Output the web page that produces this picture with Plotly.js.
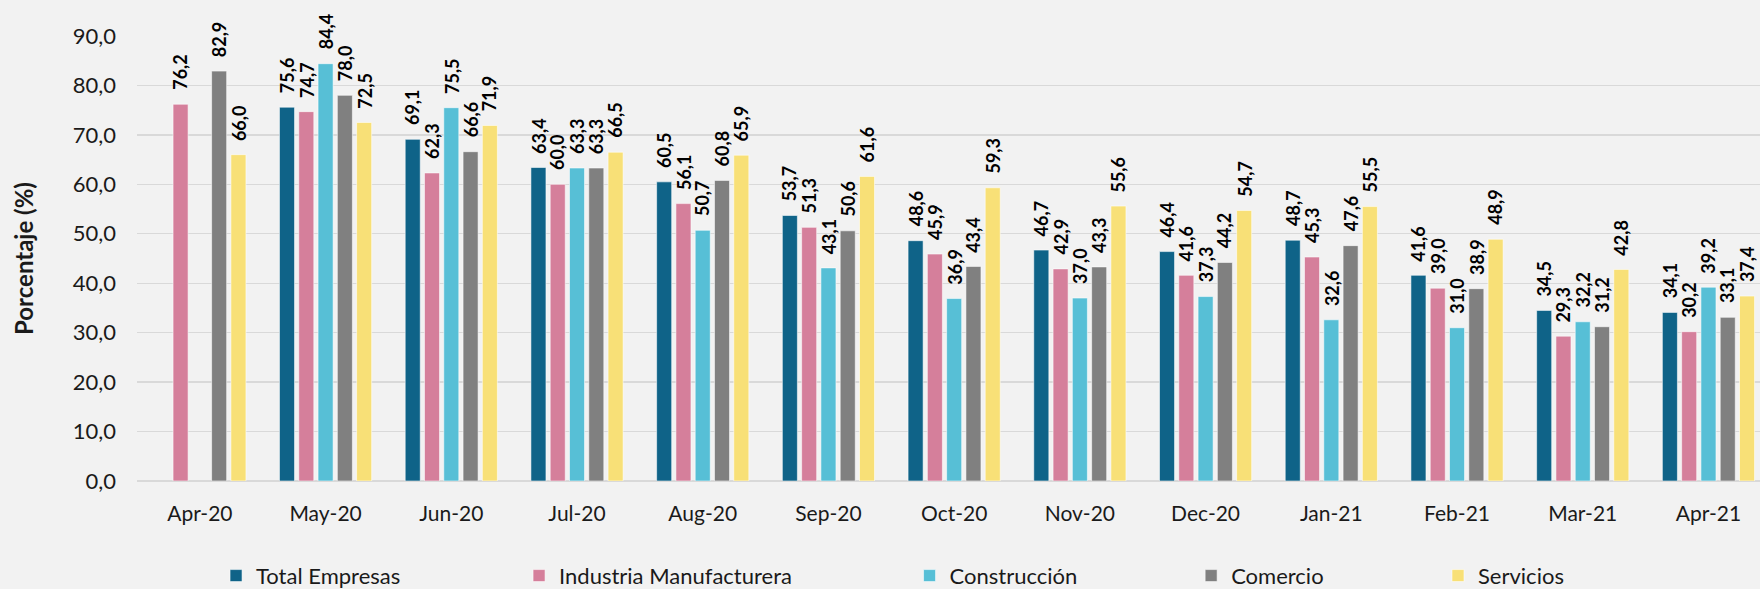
<!DOCTYPE html>
<html>
<head>
<meta charset="utf-8">
<script src="https://cdn.plot.ly/plotly-3.0.1.min.js"></script>
<style>
html,body{margin:0;padding:0;background:#F2F2F2;}
#chart{width:1760px;height:589px;}
</style>
</head>
<body>
<div id="chart"></div>
<script>
const categories = ["Apr-20","May-20","Jun-20","Jul-20","Aug-20","Sep-20","Oct-20","Nov-20","Dec-20","Jan-21","Feb-21","Mar-21","Apr-21"];
const seriesNames = ["Total Empresas","Industria Manufacturera","Construcción","Comercio","Servicios"];
const totalEmpresas = [null,75.6,69.1,63.4,60.5,53.7,48.6,46.7,46.4,48.7,41.6,34.5,34.1];
const industria = [76.2,74.7,62.3,60.0,56.1,51.3,45.9,42.9,41.6,45.3,39.0,29.3,30.2];
const construccion = [null,84.4,75.5,63.3,50.7,43.1,36.9,37.0,37.3,32.6,31.0,32.2,39.2];
const comercio = [82.9,78.0,66.6,63.3,60.8,50.6,43.4,43.3,44.2,47.6,38.9,31.2,33.1];
const servicios = [66.0,72.5,71.9,66.5,65.9,61.6,59.3,55.6,54.7,55.5,48.9,42.8,37.4];
const yTickVals = [0,10,20,30,40,50,60,70,80,90];

const allValues = [totalEmpresas, industria, construccion, comercio, servicios];
const colors = ["#0F6388","#D57F9B","#57BFD6","#808080","#F8E077"];
const legendIds = ["legend","legend2","legend3","legend4","legend5"];
const legendX = [0.0487,0.2354,0.4760,0.6495,0.8016];

const FONT = "Lato, 'Open Sans', sans-serif";

const W = 1760, H = 589;
const margin = {l: 137, r: 0, t: 36, b: 108, autoexpand: false};
const xRange = [-0.5, 12.41];
const bargap = 0.233;

// pixel width of one series slot inside a category group (derived from axis scale)
const catPx = (W - margin.l - margin.r) / (xRange[1] - xRange[0]);
const slotPx = catPx * (1 - bargap) / allValues.length;

const traces = allValues.map((vals, i) => ({
  type: "bar",
  name: seriesNames[i],
  x: categories,
  y: vals,
  marker: {color: colors[i], line: {color: "rgba(255,255,255,0.55)", width: 1}},
  legend: legendIds[i],
  hoverinfo: "x+y+name"
}));

const annotations = [];
allValues.forEach((vals, i) => {
  vals.forEach((v, j) => {
    if (v === null) return;
    annotations.push({
      x: categories[j],
      y: v,
      xref: "x",
      yref: "y",
      text: v.toFixed(1).replace(".", ","),
      showarrow: false,
      textangle: -90,
      xanchor: "center",
      yanchor: "bottom",
      xshift: (i - (allValues.length - 1) / 2) * slotPx,
      yshift: 13,
      borderpad: 0,
      font: {family: FONT, size: 18, color: "#000000", weight: "bold"}
    });
  });
});

const layout = {
  width: W,
  height: H,
  paper_bgcolor: "#F2F2F2",
  plot_bgcolor: "#F2F2F2",
  separators: ",.",
  margin: margin,
  barmode: "group",
  bargap: bargap,
  bargroupgap: 0.22,
  font: {family: FONT, color: "#1a1a1a"},
  xaxis: {
    type: "category",
    range: xRange,
    showgrid: false,
    showline: false,
    ticks: "",
    tickfont: {family: FONT, size: 21, color: "#1a1a1a"},
    ticklabelstandoff: 18,
    fixedrange: true
  },
  yaxis: {
    range: [0, 90],
    tickvals: yTickVals,
    tickformat: ".1f",
    showgrid: true,
    gridcolor: "#D9D9D9",
    gridwidth: 1.3,
    zeroline: true,
    zerolinecolor: "#D9D9D9",
    zerolinewidth: 2,
    showline: false,
    ticks: "",
    tickfont: {family: FONT, size: 22, color: "#1a1a1a"},
    ticklabelstandoff: 20,
    title: {text: "Porcentaje (%)", font: {family: FONT, size: 24, color: "#1a1a1a", weight: "bold"}, standoff: 32},
    automargin: false,
    fixedrange: true
  },
  annotations: annotations,
  showlegend: true
};

legendIds.forEach((id, i) => {
  layout[id] = {
    orientation: "h",
    x: legendX[i],
    xanchor: "left",
    y: -0.213,
    yanchor: "middle",
    bgcolor: "rgba(0,0,0,0)",
    font: {family: FONT, size: 22, color: "#1a1a1a"},
    itemclick: false,
    itemdoubleclick: false
  };
});

Plotly.newPlot("chart", traces, layout, {displayModeBar: false, staticPlot: true});
</script>
</body>
</html>
